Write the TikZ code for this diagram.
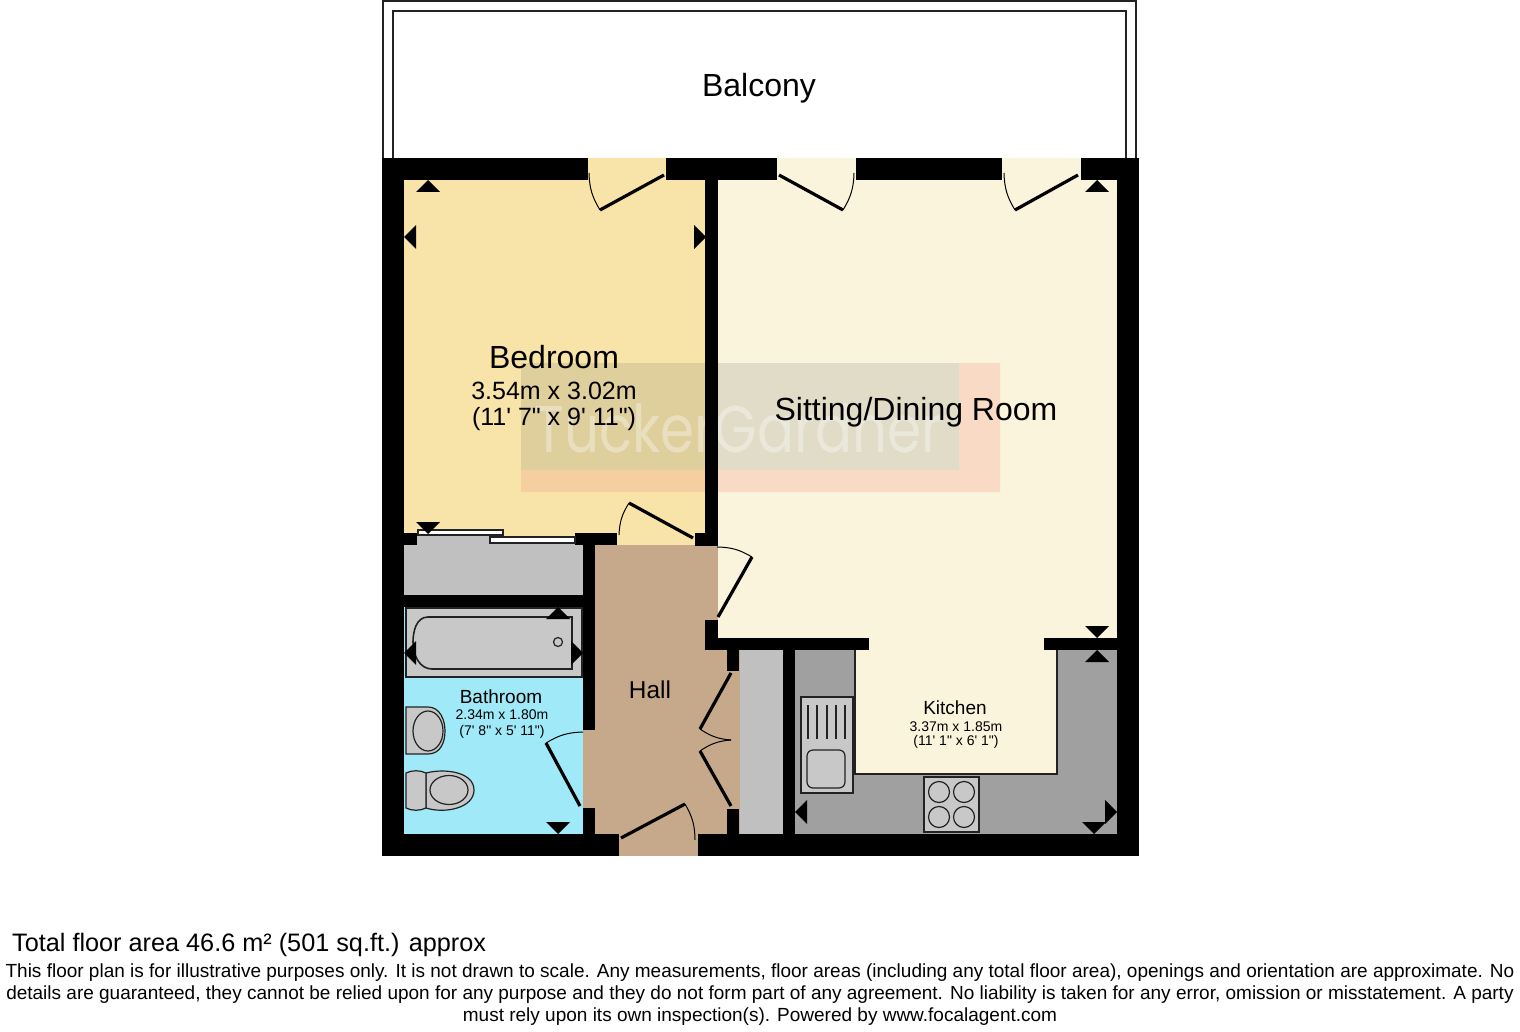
\documentclass[tikz,border=0pt]{standalone}
\usepackage{fontspec}
\setmainfont{Liberation Sans}[Ligatures=TeXOff]
\newfontfamily\markfont{Poppins}
\definecolor{bedroomfill}{HTML}{F8E4A8}
\definecolor{sittingfill}{HTML}{FAF4DC}
\definecolor{hallfill}{HTML}{C6A98B}
\definecolor{bathfill}{HTML}{9FE9F8}
\definecolor{storefill}{HTML}{C0C0C0}
\definecolor{unitfill}{HTML}{A0A0A0}
\definecolor{fixturefill}{HTML}{C8C8C8}
\definecolor{lineink}{HTML}{222222}
\newcommand{\sized}[1]{\fontsize{#1}{#1}\selectfont}
\begin{document}
\begin{tikzpicture}[
       x=1pt, y=-1pt,
       wall/.style={fill=black, draw=none},
       thinline/.style={draw=lineink, line width=1.2pt},
       fixture/.style={thinline, fill=fixturefill},
       leaf/.style={draw=black, line width=3.2pt},
       swing/.style={draw=black, line width=1pt},
       label/.style={text=black, inner sep=0pt, align=center},
       bigname/.style={label, font=\sized{32}},
       midname/.style={label, font=\sized{25}},
       smallname/.style={label, font=\sized{19}},
       smalldim/.style={label, font=\sized{14}},
       note/.style={label, font=\sized{19}, anchor=base}
   ]
   \useasboundingbox (0,0) rectangle (1520,1032);

   % balcony
   \draw[thinline] (383,158) -- (383,1) -- (1136,1) -- (1136,158);
   \draw[thinline] (393,158) -- (393,11) -- (1126,11) -- (1126,158);

   % floors
   \fill[bedroomfill] (404,180) rectangle (705,545);
   \fill[bedroomfill] (588,158) rectangle (666,180);
   \fill[bedroomfill] (617,533) rectangle (695,546);
   \fill[sittingfill] (718,180) rectangle (1117,638);
   \fill[sittingfill] (777,158) rectangle (856,180);
   \fill[sittingfill] (1002,158) rectangle (1081,180);
   \fill[storefill] (739,650) rectangle (783,834);
   \fill[storefill] (417,535) rectangle (490,545) (490,543) rectangle (575,545) (404,545) rectangle (583,595);
   \fill[unitfill] (795,650) rectangle (1117,834);
   \fill[sittingfill] (869,638) rectangle (1044,650);
   \filldraw[fill=sittingfill, draw=lineink, line width=1.2pt] (855,650) -- (855,774) -- (1057,774) -- (1057,650);
   \fill[sittingfill] (856,645) rectangle (1056,652);
   \fill[bathfill] (404,607) rectangle (583,834);
   \fill[hallfill] (595,545) rectangle (718,834);
   \fill[hallfill] (583,730) rectangle (595,808);
   \fill[hallfill] (716,650) rectangle (739.5,834);
   \fill[hallfill] (619,834) rectangle (698,856);

   % watermark
   \fill[fill={rgb,255:red,120;green,124;blue,115}, opacity=0.2] (521,363) rectangle (959,470);
   \fill[fill={rgb,255:red,244;green,160;blue,144}, opacity=0.3] (521,470) rectangle (1000,492) (959,363) rectangle (1000,470);
   \node[text=white, opacity=0.35, font=\markfont\sized{66}, inner sep=0pt, xscale=0.83] (brand) at (738,428) {TuckerGardner};

   % walls
   \foreach \xa/\ya/\xb/\yb in {
       382/158/588/180, 666/158/777/180, 856/158/1002/180, 1081/158/1139/180,
       382/158/404/856, 1117/158/1139/856,
       382/834/619/856, 698/834/1139/856,
       705/180/718/546, 695/533/718/546,
       404/533/417/545, 575/533/617/545,
       583/533/595/730, 583/808/595/834,
       404/595/583/607,
       705/620/718/650, 705/638/869/650, 1044/638/1117/650,
       727/650/739/671, 727/809/739/834,
       783/650/795/834}
       \fill[wall] (\xa,\ya) rectangle (\xb,\yb);

   % sliding doors
   \draw[thinline, fill=white] (418,530) rectangle (503,535);
   \draw[thinline, fill=white] (490,537) rectangle (575,543);

   % doors
   \draw[leaf] (664,175) -- (600,210);
   \draw[swing] (600,210) to[bend left=15] (589,173);
   \draw[leaf] (779,175) -- (843,210);
   \draw[swing] (843,210) to[bend right=15] (854,173);
   \draw[leaf] (1078,175) -- (1015,210);
   \draw[swing] (1015,210) to[bend left=15] (1004,173);
   \draw[leaf] (693,538) -- (629,503);
   \draw[swing] (629,503) to[bend right=15] (619,535);
   \draw[leaf] (718,617) -- (752,557);
   \draw[swing] (752,557) to[bend right=15] (717,547);
   \draw[leaf] (580,806) -- (546,743);
   \draw[swing] (546,743) to[bend left=15] (583,732);
   \draw[leaf] (731,673) -- (700,729);
   \draw[swing] (700,729) to[bend right=15] (731,740);
   \draw[leaf] (731,806) -- (700,751);
   \draw[swing] (700,751) to[bend left=15] (731,740);
   \draw[leaf] (621,838) -- (685,804);
   \draw[swing] (685,804) to[bend left=15] (695,840);

   % bathroom fittings
   \draw[fixture] (406,608) rectangle (582,677);
   \draw[fixture, line width=1.6pt] (572,617) -- (428,617) .. controls (416,617) and (413,632) .. (413,642) .. controls (413,656) and (420,669) .. (432,669) -- (572,669) -- cycle;
   \draw[thinline] (558,642) circle (4.5pt);
   \draw[fixture] (406,707) -- (428,707) .. controls (440,707) and (445,720) .. (445,731) .. controls (445,743) and (440,754) .. (428,754) -- (406,754) -- cycle;
   \draw[thinline] (428,731) ellipse (15pt and 20pt);
   \draw[fixture] (426,773) .. controls (445,768) and (474,772) .. (474,790) .. controls (474,808) and (445,814) .. (426,808) -- cycle;
   \draw[fixture] (406,773) .. controls (412,770) and (420,770) .. (426,773) -- (426,808) .. controls (420,811) and (412,811) .. (406,808) -- cycle;
   \draw[thinline] (449,790) ellipse (19pt and 14.5pt);

   % kitchen fittings
   \draw[fixture] (801,697) rectangle (853,793);
   \foreach \xa in {808,817,827,836,845}
       \draw[thinline] (\xa,705) -- (\xa,739);
   \draw[fixture, rounded corners=6pt] (807,750) rectangle (845,788);
   \draw[fixture] (924,777) rectangle (979,832);
   \foreach \xa in {939,964}
       \foreach \ya in {792,817}
           \draw[fixture] (\xa,\ya) circle (10.5pt);

   % measuring marks
   \foreach \xa/\ya/\ang in {
       428/180/0, 404/237/90, 706/237/270, 1097/180/0,
       428/534/180, 558/607/0, 404/653/90, 583/653/270, 558/834/180,
       1097/638/180, 1097/650/0, 795/812/90, 1117/812/270, 1094/834/180}
       \fill[black, shift={(\xa,\ya)}, rotate=\ang] (0,0) -- (12,12) -- (-12,12) -- cycle;

   % labels
   \node[bigname] (balcony) at (759,88) {Balcony};
   \node[bigname] (bedroom) at (554,357) {Bedroom};
   \node[midname] (bedsizea) at (554,391) {3.54m x 3.02m};
   \node[midname] (bedsizeb) at (554,419) {(11' 7" x 9' 11")};
   \node[bigname] (sitting) at (916,412) {Sitting/Dining Room};
   \node[label, font=\sized{24.4}] (hall) at (650,690) {Hall};
   \node[smallname] (bathroom) at (501,697) {Bathroom};
   \node[smalldim] (bathsizea) at (502,715) {2.34m x 1.80m};
   \node[smalldim] (bathsizeb) at (502,732) {(7' 8" x 5' 11")};
   \node[smallname] (kitchen) at (955,708) {Kitchen};
   \node[smalldim] (kitchensizea) at (956,727) {3.37m x 1.85m};
   \node[smalldim] (kitchensizeb) at (956,742) {(11' 1" x 6' 1")};

   \node[label, font=\sized{25.25}, anchor=base west] (total) at (12,951) {Total floor area 46.6 m² (501 sq.ft.) approx};
   \node[note] (notea) at (760,977) {This floor plan is for illustrative purposes only. It is not drawn to scale. Any measurements, floor areas (including any total floor area), openings and orientation are approximate. No};
   \node[note] (noteb) at (760,999) {details are guaranteed, they cannot be relied upon for any purpose and they do not form part of any agreement. No liability is taken for any error, omission or misstatement. A party};
   \node[note] (notec) at (760,1021) {must rely upon its own inspection(s). Powered by www.focalagent.com};
   \end{tikzpicture}
\end{document}
